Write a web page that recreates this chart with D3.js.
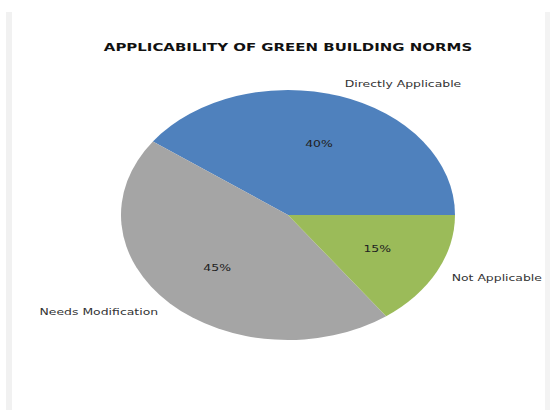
<!DOCTYPE html>
<html>
<head>
<meta charset="utf-8">
<script src="https://cdn.jsdelivr.net/npm/d3@7"></script>
<style>
  html, body { margin: 0; padding: 0; background: #fff; }
  svg { display: block; }
</style>
</head>
<body>
<div id="chart"></div>
<script>
// --- data
const categories = ["Directly Applicable", "Needs Modification", "Not Applicable"];
const shares = [40, 45, 15];
const colors = ["#4f81bd", "#a5a5a5", "#9bbb59"];
const title = "APPLICABILITY OF GREEN BUILDING NORMS";

const W = 553, H = 410;
const cx = 288, cy = 215;
const r = 125;          // vertical radius
const sx = 167 / 125;   // picture is stretched sideways

const svg = d3.select("#chart").append("svg").attr("width", W).attr("height", H);

// faint frame edges
svg.append("rect").attr("x", 6).attr("y", 12).attr("width", 6).attr("height", H - 12).attr("fill", "#f1f1f1");
svg.append("rect").attr("x", 545).attr("y", 12).attr("width", 5).attr("height", H - 12).attr("fill", "#f3f3f3");

// title
svg.append("g").attr("transform", `translate(${cx},51) scale(${sx},1)`)
  .append("text")
  .attr("text-anchor", "middle")
  .style("font-family", "DejaVu Sans")
  .style("font-weight", "bold")
  .style("font-size", "11.2px")
  .attr("fill", "#111")
  .text(title);

const g = svg.append("g").attr("transform", `translate(${cx},${cy}) scale(${sx},1)`);

// matplotlib style: start at 3 o'clock, go counter-clockwise
const pie = d3.pie().sort(null).value(d => d)
  .startAngle(Math.PI / 2).endAngle(Math.PI / 2 - 2 * Math.PI);
const arcs = pie(shares);
const arc = d3.arc().innerRadius(0).outerRadius(r);

g.selectAll("path.slice").data(arcs).enter().append("path")
  .attr("class", "slice")
  .attr("d", arc)
  .attr("fill", (d, i) => colors[i]);

const font = { family: "DejaVu Sans", size: "9.3px" };
function pos(d, k) {
  const a = (d.startAngle + d.endAngle) / 2; // d3 angle: 0 at 12 o'clock, clockwise
  return [Math.sin(a) * r * k, -Math.cos(a) * r * k];
}

// category labels
g.selectAll("text.lab").data(arcs).enter().append("text")
  .attr("class", "lab")
  .attr("x", d => pos(d, 1.1)[0])
  .attr("y", d => pos(d, 1.1)[1])
  .attr("dy", "0.35em")
  .attr("text-anchor", d => pos(d, 1.1)[0] >= 0 ? "start" : "end")
  .style("font-family", font.family).style("font-size", font.size)
  .attr("fill", "#333")
  .text((d, i) => categories[i]);

// percentages
g.selectAll("text.pct").data(arcs).enter().append("text")
  .attr("class", "pct")
  .attr("x", d => pos(d, 0.6)[0])
  .attr("y", d => pos(d, 0.6)[1])
  .attr("dy", "0.35em")
  .attr("text-anchor", "middle")
  .style("font-family", font.family).style("font-size", font.size)
  .attr("fill", "#222")
  .text((d, i) => shares[i] + "%");
</script>
</body>
</html>
